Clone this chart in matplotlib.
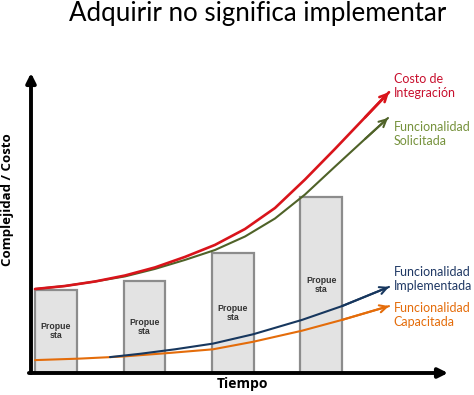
import numpy as np
import matplotlib
matplotlib.use("Agg")
import matplotlib.pyplot as plt

# Bars ("Propuesta") - position on time axis and height
bar_x = [0.6, 2.72, 4.84, 6.96]
bar_h = [2.77, 3.07, 4.0, 5.87]
bar_labels = ["Propue\nsta"] * 4

# Curves (time, value)
red_x = [0.096, 0.815, 1.535, 2.254, 2.974, 3.693, 4.412, 5.132, 5.851, 6.571, 7.290, 8.010, 8.585]
red_y = [2.80, 2.90, 3.05, 3.25, 3.52, 3.87, 4.27, 4.80, 5.50, 6.45, 7.47, 8.52, 9.36]

green_x = [0.096, 0.815, 1.535, 2.254, 2.974, 3.693, 4.412, 5.132, 5.851, 6.571, 7.290, 8.010, 8.561]
green_y = [2.80, 2.90, 3.05, 3.22, 3.47, 3.77, 4.10, 4.55, 5.15, 5.95, 6.88, 7.80, 8.50]

blue_x = [1.894, 2.614, 3.453, 4.365, 5.324, 6.499, 7.458, 8.585]
blue_y = [0.53, 0.64, 0.79, 0.98, 1.29, 1.77, 2.23, 2.87]

orange_x = [0.096, 1.175, 2.206, 3.333, 4.365, 5.324, 6.499, 7.458, 8.585]
orange_y = [0.43, 0.48, 0.55, 0.67, 0.79, 1.04, 1.41, 1.77, 2.23]

curves = [
    (red_x, red_y, "#d9141b", 1.9, "Costo de\nIntegración", "#c8102e", 9.58),
    (green_x, green_y, "#4f6228", 1.5, "Funcionalidad\nSolicitada", "#76923c", 7.97),
    (blue_x, blue_y, "#17375e", 1.5, "Funcionalidad\nImplementada", "#1f3864", 3.12),
    (orange_x, orange_y, "#e46c0a", 1.5, "Funcionalidad\nCapacitada", "#e46c0a", 1.95),
]

fig = plt.figure(figsize=(4.74, 3.95), dpi=100)
ax = fig.add_axes([31 / 474, 22 / 395, 417 / 474, 300 / 395])
ax.set_xlim(0, 10)
ax.set_ylim(0, 10)
ax.axis("off")

# bars
ax.bar(bar_x, bar_h, width=1.0, color="#e3e3e3", edgecolor="#8c8c8c",
       linewidth=1.6, zorder=2)
for bx, bh, lab in zip(bar_x, bar_h, bar_labels):
    ax.text(bx, bh / 2, lab, ha="center", va="center", fontsize=6.3,
            fontweight="bold", family="Liberation Sans", color="#333333",
            linespacing=1.0, zorder=3)

# curves with arrow heads and labels
for cx, cy, col, lw, lab, tcol, ty in curves[::-1]:
    ax.plot(cx, cy, color=col, linewidth=lw, solid_capstyle="round", zorder=4)
    ax.annotate("", xy=(cx[-1], cy[-1]), xytext=(cx[-2], cy[-2]),
                arrowprops=dict(arrowstyle="->", color=col, lw=lw,
                                mutation_scale=13, shrinkA=0, shrinkB=0),
                zorder=5)
    ax.text(8.7, ty, lab, ha="left", va="center", fontsize=9.0,
            family=["Lato", "DejaVu Sans"], color=tcol, linespacing=1.2)

# axes as arrows
ax.annotate("", xy=(0, 1.0), xytext=(0, 0), xycoords="axes fraction",
            arrowprops=dict(arrowstyle="-|>", color="black", lw=2.8,
                            mutation_scale=14, shrinkA=0, shrinkB=0),
            annotation_clip=False)
ax.annotate("", xy=(1.0, 0), xytext=(-0.005, 0), xycoords="axes fraction",
            arrowprops=dict(arrowstyle="-|>", color="black", lw=2.8,
                            mutation_scale=14, shrinkA=0, shrinkB=0),
            annotation_clip=False)

fig.text(258 / 474, 0.965, "Adquirir no significa implementar", ha="center", va="center",
         fontsize=18.6, family=["Lato", "DejaVu Sans"], color="black")
fig.text(8 / 474, 1 - 200 / 395, "Complejidad / Costo", rotation=90,
         ha="center", va="center", fontsize=9.5, fontweight="bold",
         family=["Open Sans", "DejaVu Sans"])
fig.text(243 / 474, 1 - 384 / 395, "Tiempo", ha="center", va="center",
         fontsize=10, fontweight="bold", family=["Open Sans", "DejaVu Sans"])

fig.savefig("out.png", dpi=100)
